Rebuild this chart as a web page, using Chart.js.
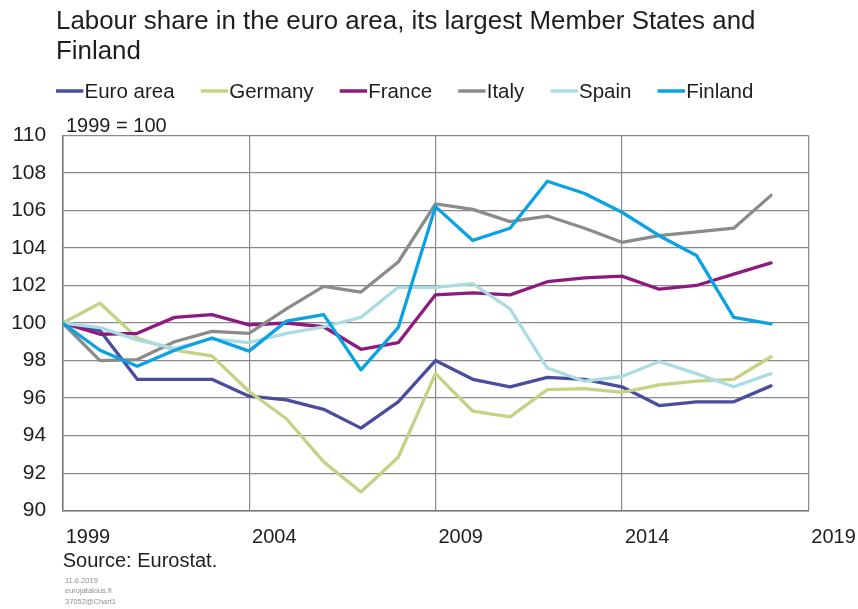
<!DOCTYPE html>
<html>
<head>
<meta charset="utf-8">
<script src="https://cdn.jsdelivr.net/npm/chart.js@4.4.1/dist/chart.umd.min.js"></script>
<style>
html,body{margin:0;padding:0;background:#ffffff;}
#box{position:relative;width:858px;height:609px;}
</style>
</head>
<body>
<div id="box"><canvas id="chart" width="858" height="609"></canvas></div>
<script>
// ---- data ----
const years = [1999,2000,2001,2002,2003,2004,2005,2006,2007,2008,2009,2010,2011,2012,2013,2014,2015,2016,2017,2018];
const xTickYears = [1999, 2004, 2009, 2014, 2019];
const yTickValues = [90, 92, 94, 96, 98, 100, 102, 104, 106, 108, 110];
const seriesNames = ['Euro area', 'Germany', 'France', 'Italy', 'Spain', 'Finland'];
const euroArea = [100, 99.6, 97.0, 97.0, 97.0, 96.1, 95.9, 95.4, 94.4, 95.8, 98.0, 97.0, 96.6, 97.1, 97.0, 96.6, 95.6, 95.8, 95.8, 96.65];
const germany  = [100, 101.05, 99.2, 98.55, 98.25, 96.35, 94.9, 92.6, 91.0, 92.85, 97.3, 95.3, 95.0, 96.45, 96.5, 96.3, 96.7, 96.9, 97.0, 98.2];
const france   = [100, 99.4, 99.45, 100.3, 100.45, 99.9, 100.0, 99.8, 98.6, 98.95, 101.5, 101.6, 101.5, 102.2, 102.4, 102.5, 101.8, 102.0, 102.6, 103.2];
const italy    = [100, 98.0, 98.05, 99.0, 99.55, 99.45, 100.75, 101.95, 101.65, 103.25, 106.35, 106.05, 105.4, 105.7, 105.05, 104.3, 104.65, 104.85, 105.05, 106.8];
const spain    = [100, 99.75, 99.1, 98.65, 99.15, 98.95, 99.45, 99.8, 100.3, 101.9, 101.9, 102.1, 100.75, 97.6, 96.9, 97.15, 97.95, 97.3, 96.6, 97.3];
const finland  = [100, 98.55, 97.7, 98.55, 99.2, 98.5, 100.1, 100.45, 97.5, 99.75, 106.2, 104.4, 105.05, 107.55, 106.9, 105.9, 104.65, 103.6, 100.3, 99.95];
const titleLines = ['Labour share in the euro area, its largest Member States and', 'Finland'];
const unitNote = '1999 = 100';
const sourceNote = 'Source: Eurostat.';
const footerLines = ['11.6.2019', 'eurojatalous.fi', '37052@Chart1'];

// ---- styles ----
const seriesColors = ['#484d9f', '#c4d383', '#8e1a80', '#8b8b8b', '#acdce3', '#0aa2e3'];
const FONT = '"Liberation Sans", Arial, Helvetica, sans-serif';
const TEXT = '#1e1e1e';
const GRID = '#8a8a8a';

const allSeries = [euroArea, germany, france, italy, spain, finland];

const datasets = seriesNames.map((name, i) => ({
  label: name,
  data: years.map((yr, j) => ({ x: yr, y: allSeries[i][j] })),
  borderColor: seriesColors[i],
  backgroundColor: seriesColors[i],
  borderWidth: 3.3,
  pointRadius: 0,
  pointHoverRadius: 0,
  tension: 0,
  fill: false,
  order: seriesNames.length - i,
  borderJoinStyle: 'round',
  borderCapStyle: 'round'
}));

// legend + notes drawn as canvas text
const notesPlugin = {
  id: 'notesPlugin',
  afterDraw(chart) {
    const ctx = chart.ctx;
    ctx.save();
    ctx.font = '20.5px ' + FONT;
    ctx.textBaseline = 'middle';
    ctx.textAlign = 'left';
    let x = 56;
    const ly = 91;
    chart.data.datasets.forEach(ds => {
      ctx.strokeStyle = ds.borderColor;
      ctx.lineWidth = 3.5;
      ctx.lineCap = 'butt';
      ctx.beginPath();
      ctx.moveTo(x, ly);
      ctx.lineTo(x + 27.3, ly);
      ctx.stroke();
      ctx.fillStyle = TEXT;
      const tx = x + 28.5;
      ctx.fillText(ds.label, tx, ly + 1);
      x = tx + ctx.measureText(ds.label).width + 26.2;
    });
    ctx.fillStyle = TEXT;
    ctx.font = '20px ' + FONT;
    ctx.fillText(unitNote, 66, 126.7);
    ctx.fillStyle = '#8f8f8f';
    ctx.font = '7.5px ' + FONT;
    footerLines.forEach((t, i) => ctx.fillText(t, 65, 580.5 + i * 10.5));
    ctx.restore();
  }
};

Chart.defaults.font.family = FONT;
Chart.defaults.color = TEXT;

new Chart(document.getElementById('chart'), {
  type: 'line',
  data: { datasets },
  plugins: [notesPlugin],
  options: {
    responsive: false,
    animation: false,
    devicePixelRatio: 1,
    events: [],
    layout: { padding: { left: 56, right: 49.7, top: 0, bottom: 35.7 } },
    plugins: {
      legend: { display: false },
      tooltip: { enabled: false },
      title: {
        display: true,
        text: titleLines,
        align: 'start',
        color: TEXT,
        font: { size: 25.9, weight: 'normal', lineHeight: 30 / 25.9 },
        padding: { top: 6.75, bottom: 68.55 }
      }
    },
    scales: {
      x: {
        type: 'linear',
        min: xTickYears[0],
        max: xTickYears[xTickYears.length - 1],
        afterBuildTicks: s => { s.ticks = xTickYears.map(v => ({ value: v })); },
        ticks: {
          align: 'start',
          labelOffset: 3,
          padding: 4,
          color: TEXT,
          font: { size: 20, lineHeight: 2.26 },
          maxRotation: 0,
          autoSkip: false,
          callback: v => String(v)
        },
        grid: { color: GRID, lineWidth: 1.2, drawTicks: false },
        border: { display: true, color: '#777777', width: 1.5 },
        title: {
          display: true,
          text: sourceNote,
          align: 'start',
          color: TEXT,
          font: { size: 20, lineHeight: 1.2 },
          padding: { top: -14.6, bottom: 0 }
        }
      },
      y: {
        min: yTickValues[0],
        max: yTickValues[yTickValues.length - 1],
        afterBuildTicks: s => { s.ticks = yTickValues.map(v => ({ value: v })); },
        afterFit: s => { s.width = 6.7; s._computeLabelArea = () => undefined; },
        ticks: {
          padding: 16.5,
          color: TEXT,
          font: { size: 21, lineHeight: 1.2 },
          callback: v => String(v)
        },
        grid: { color: GRID, lineWidth: 1.2, drawTicks: false },
        border: { display: true, color: '#777777', width: 1.5 }
      }
    }
  }
});
</script>
</body>
</html>
